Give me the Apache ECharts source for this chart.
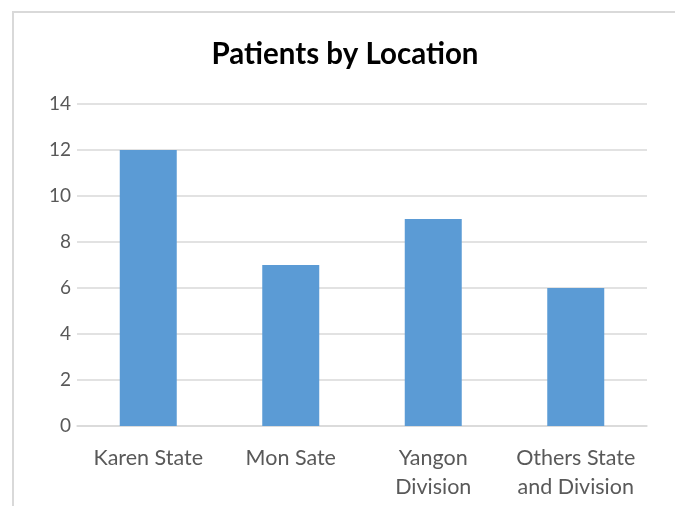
<!DOCTYPE html>
<html>
<head>
<meta charset="utf-8">
<script src="https://cdn.jsdelivr.net/npm/echarts@6/dist/echarts.min.js"></script>
<style>
  html, body { margin: 0; padding: 0; background: #fff; }
  #wrap { position: relative; width: 675px; height: 506px; overflow: hidden; }
  #frame {
    position: absolute; left: 12px; top: 11px; right: -10px; bottom: -10px;
    border-left: 2px solid #d9d9d9; border-top: 2px solid #d9d9d9;
  }
  #chart { position: absolute; left: 0; top: 0; width: 675px; height: 506px; }
</style>
</head>
<body>
<div id="wrap">
  <div id="frame"></div>
  <div id="chart"></div>
</div>
<script>
const locations = ["Karen State", "Mon Sate", "Yangon\nDivision", "Others State\nand Division"];
const patients = [12, 7, 9, 6];

let myChart = echarts.init(document.getElementById("chart"));

let option = {
  backgroundColor: "transparent",
  title: {
    text: "Patients by Location",
    left: 340,
    textAlign: "center",
    top: 34,
    textStyle: {
      fontFamily: "Lato",
      fontWeight: "bold",
      fontSize: 29.5,
      color: "#000"
    }
  },
  grid: { left: 77, right: 28, top: 104, bottom: 80 },
  xAxis: {
    type: "category",
    data: locations,
    axisLine: { lineStyle: { color: "#d9d9d9", width: 1.5 } },
    axisTick: { show: false },
    axisLabel: {
      color: "#595959",
      fontFamily: "Lato",
      fontSize: 21.5,
      lineHeight: 29,
      margin: 18,
      interval: 0
    }
  },
  yAxis: {
    type: "value",
    min: 0,
    max: 14,
    interval: 2,
    axisLine: { show: false },
    axisTick: { show: false },
    splitLine: { lineStyle: { color: "#d9d9d9", width: 1.5 } },
    axisLabel: {
      color: "#595959",
      fontFamily: "Lato",
      fontSize: 19,
      margin: 6
    }
  },
  series: [{
    type: "bar",
    data: patients,
    barWidth: "40%",
    itemStyle: { color: "#5b9bd5" },
    silent: true
  }]
};
myChart.setOption(option);
</script>
</body>
</html>
